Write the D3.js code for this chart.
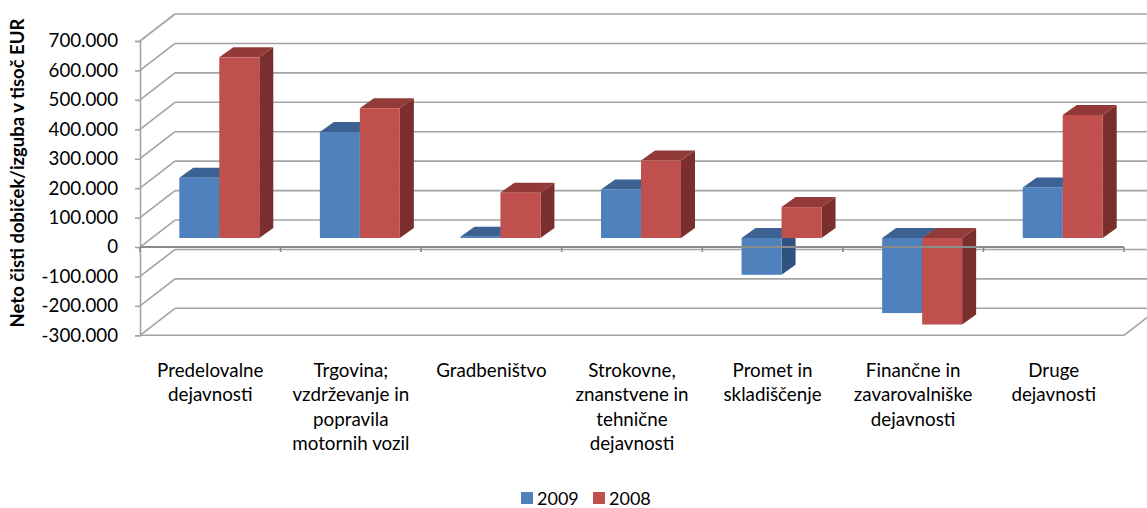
<!DOCTYPE html>
<html>
<head>
<meta charset="utf-8">
<script src="https://cdn.jsdelivr.net/npm/d3@7"></script>
<style>
  html, body { margin: 0; padding: 0; background: #fff; }
  svg { display: block; }
  text { font-family: Lato, "Liberation Sans", sans-serif; fill: #000; }
</style>
</head>
<body>
<svg id="chart" width="1147" height="508"></svg>
<script>
// ---------- data ----------
const categories = [
  "Predelovalne\ndejavnosti",
  "Trgovina;\nvzdrževanje in\npopravila\nmotornih vozil",
  "Gradbeništvo",
  "Strokovne,\nznanstvene in\ntehnične\ndejavnosti",
  "Promet in\nskladiščenje",
  "Finančne in\nzavarovalniške\ndejavnosti",
  "Druge\ndejavnosti"
];
const seriesNames = ["2009", "2008"];
const values2009 = [205000, 360000, 4000, 165000, -125000, -255000, 172000];
const values2008 = [614000, 441000, 154000, 263000, 105000, -294000, 418000];
const tickValues = [-300000, -200000, -100000, 0, 100000, 200000, 300000, 400000, 500000, 600000, 700000];
const yTitle = "Neto čisti dobiček/izguba  v tisoč EUR";

// ---------- style / layout ----------
const colors = {
  "2009": { front: "#4f81bd", top: "#3b6292", side: "#30527e" },
  "2008": { front: "#c0504d", top: "#923a38", side: "#7a2e2d" }
};
const gridColor = "#a3a3a3";
const plot = { left: 140, right: 1124 };
const wallOff = { dx: 35, dy: -27 };     // depth of back wall
const barOff = { dx: 9, dy: -9 };        // depth of bar front faces
const barDepth = { dx: 14, dy: -10 };    // bar thickness in depth

const svg = d3.select("#chart");

const x = d3.scaleBand().domain(categories).range([plot.left, plot.right]).padding(0);
const bw = x.bandwidth();
const xs = d3.scaleBand().domain(seriesNames).range([bw * 0.2155, bw * 0.7845]).padding(0);
const y = d3.scaleLinear().domain([-300000, 700000]).range([335.3, 41]);

const locale = d3.formatLocale({ decimal: ",", thousands: ".", grouping: [3], currency: ["", "€"], minus: "-" });
const fmt = locale.format(",d");

// ---------- walls / gridlines ----------
const grid = svg.append("g").attr("stroke", gridColor).attr("stroke-width", 1.6).attr("fill", "none");
tickValues.forEach(v => {
  const yf = y(v);
  grid.append("line")
    .attr("x1", plot.left + wallOff.dx).attr("y1", yf + wallOff.dy)
    .attr("x2", plot.right + wallOff.dx).attr("y2", yf + wallOff.dy);
  grid.append("line")
    .attr("x1", plot.left).attr("y1", yf)
    .attr("x2", plot.left + wallOff.dx).attr("y2", yf + wallOff.dy);
});
const yMinF = y(tickValues[0]);
grid.append("line").attr("x1", plot.left).attr("y1", yMinF).attr("x2", plot.right).attr("y2", yMinF);
grid.append("line").attr("x1", plot.right).attr("y1", yMinF)
  .attr("x2", plot.right + wallOff.dx).attr("y2", yMinF + wallOff.dy);

// ---------- y axis ----------
const yAxis = d3.axisLeft(y).tickValues(tickValues).tickFormat(fmt).tickSize(5).tickPadding(17);
const yg = svg.append("g").attr("transform", `translate(${plot.left},0)`).call(yAxis);
yg.select(".domain").attr("stroke", gridColor).attr("stroke-width", 1.6);
yg.selectAll(".tick line").attr("stroke", gridColor).attr("stroke-width", 1.6);
yg.selectAll(".tick text").style("font-size", "18.7px").style("font-family", "Lato, 'Liberation Sans', sans-serif").attr("fill", "#000");

// ---------- bars ----------
const data = categories.map((c, i) => ({ cat: c, vals: [
  { s: "2009", v: values2009[i] },
  { s: "2008", v: values2008[i] }
]}));

const barsG = svg.append("g");
data.forEach(d => {
  d.vals.forEach(b => {
    const xf = x(d.cat) + xs(b.s) + barOff.dx;
    const w = xs.bandwidth();
    const y0 = y(0) + barOff.dy;
    const y1 = y(b.v) + barOff.dy;
    const yt = Math.min(y0, y1), yb = Math.max(y0, y1);
    const c = colors[b.s];
    const g = barsG.append("g");
    g.append("polygon").attr("fill", c.side).attr("points", [
      [xf + w, yt], [xf + w + barDepth.dx, yt + barDepth.dy],
      [xf + w + barDepth.dx, yb + barDepth.dy], [xf + w, yb]
    ].map(p => p.join(",")).join(" "));
    g.append("polygon").attr("fill", c.top).attr("points", [
      [xf, yt], [xf + w, yt], [xf + w + barDepth.dx, yt + barDepth.dy], [xf + barDepth.dx, yt + barDepth.dy]
    ].map(p => p.join(",")).join(" "));
    g.append("rect").attr("x", xf).attr("y", yt).attr("width", w).attr("height", Math.max(yb - yt, 0.5))
      .attr("fill", c.front);
  });
});

// ---------- category axis (front, at zero) ----------
const xAxisG = svg.append("g");
const y0f = y(0);
xAxisG.append("line").attr("x1", plot.left).attr("x2", plot.right).attr("y1", y0f).attr("y2", y0f)
  .attr("stroke", "#8c8c8c").attr("stroke-width", 2);
const bounds = categories.map(c => x(c)).concat([plot.right]);
xAxisG.selectAll("line.tk").data(bounds).enter().append("line").attr("class", "tk")
  .attr("x1", d => d).attr("x2", d => d).attr("y1", y0f).attr("y2", y0f + 5)
  .attr("stroke", "#8c8c8c").attr("stroke-width", 1.6);

// category labels
const labG = svg.append("g");
categories.forEach(c => {
  const t = labG.append("text").attr("text-anchor", "middle").style("font-size", "18.8px");
  c.split("\n").forEach((line, k) => {
    t.append("tspan").attr("x", x(c) + bw / 2).attr("y", 377 + k * 24.4).text(line);
  });
});

// ---------- y title ----------
svg.append("text")
  .attr("transform", "translate(24,173) rotate(-90)")
  .attr("text-anchor", "middle")
  .style("font-size", "18.5px").style("font-weight", "bold")
  .text(yTitle);

// ---------- legend ----------
const legend = svg.append("g");
const legendX = [521, 593];
seriesNames.forEach((s, i) => {
  legend.append("rect").attr("x", legendX[i]).attr("y", 492).attr("width", 12).attr("height", 12)
    .attr("fill", colors[s].front);
  legend.append("text").attr("x", legendX[i] + 16).attr("y", 504.5).style("font-size", "18px").text(s);
});
</script>
</body>
</html>
